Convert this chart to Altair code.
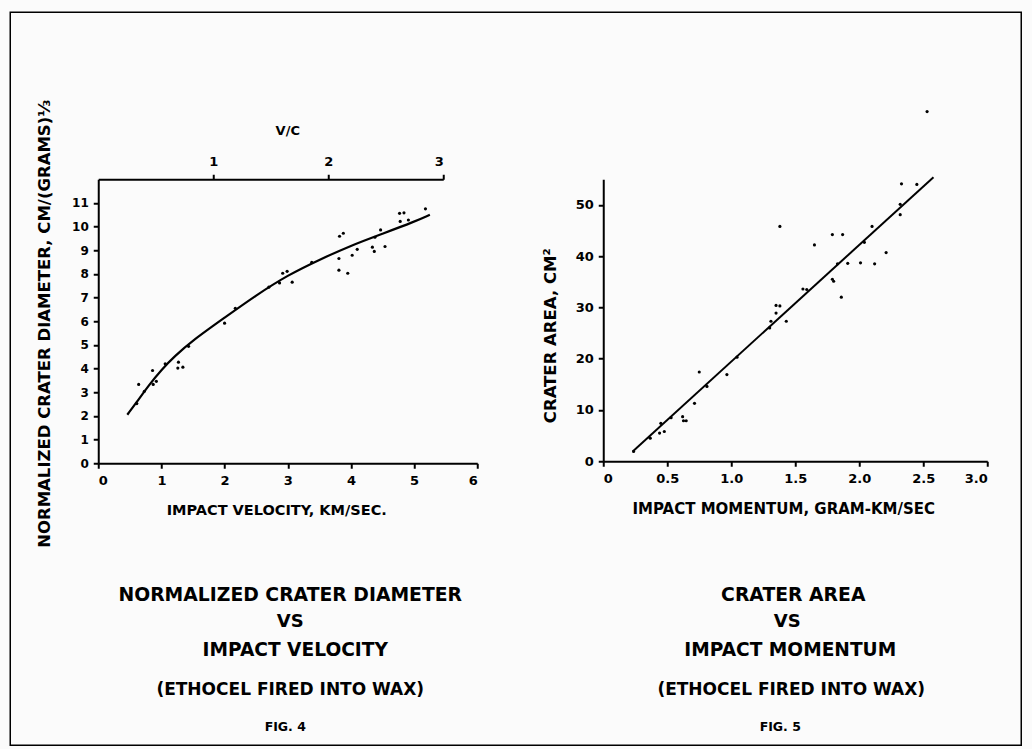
import altair as alt
import pandas as pd

FONT = "DejaVu Sans"

# ---- Fig. 4: normalized crater diameter vs impact velocity ----
vel_pts = [0.64, 0.86, 0.92, 0.87, 0.61, 0.73, 1.06, 1.27, 1.26, 1.34, 1.43, 2.00, 2.17,
           2.70, 2.87, 2.92, 2.99, 3.07, 3.38, 3.82, 3.88, 3.81, 3.81, 3.95, 4.02, 4.10,
           4.34, 4.37, 4.38, 4.47, 4.54, 4.77, 4.84, 4.78, 4.91, 5.18]
diam_pts = [3.33, 3.92, 3.46, 3.33, 2.52, 3.04, 4.20, 4.27, 4.02, 4.06, 4.94, 5.92, 6.55,
            7.44, 7.62, 8.03, 8.11, 7.65, 8.49, 9.59, 9.72, 8.65, 8.16, 8.03, 8.79, 9.04,
            9.13, 8.95, 9.55, 9.86, 9.16, 10.56, 10.58, 10.22, 10.28, 10.75]

curve_vel = [0.46, 0.6, 0.8, 1.0, 1.2, 1.5, 2.0, 2.5, 3.0, 3.5, 4.0, 4.5, 5.0, 5.25]
curve_diam = [2.05, 2.55, 3.3, 3.95, 4.5, 5.2, 6.15, 7.1, 7.95, 8.6, 9.2, 9.7, 10.2, 10.5]

vc_ticks = [1, 2, 3]
vel_ticks = [0, 1, 2, 3, 4, 5, 6]
diam_ticks = list(range(0, 12))

# ---- Fig. 5: crater area vs impact momentum ----
mom_pts = [0.237, 0.367, 0.45, 0.44, 0.477, 0.53, 0.62, 0.627, 0.648, 0.713, 0.75, 0.81, 0.966, 1.045,
           1.31, 1.35, 1.35, 1.38, 1.43, 1.30, 1.56, 1.59, 1.65, 1.38, 1.79, 1.87, 1.79, 1.80,
           1.86, 1.83, 1.91, 2.01, 2.12, 2.21, 2.10, 2.04,
           2.53, 2.33, 2.45, 2.32, 2.32]
area_pts = [1.9, 4.5, 7.4, 5.5, 5.8, 8.5, 8.7, 7.9, 7.9, 11.3, 17.4, 14.6, 16.9, 20.3,
            27.3, 28.9, 30.4, 30.3, 27.3, 26.0, 33.6, 33.5, 42.2, 45.8, 44.2, 44.2, 35.5, 35.1,
            32.0, 38.5, 38.6, 38.7, 38.5, 40.7, 45.8, 42.7,
            68.2, 54.1, 54.0, 50.1, 48.1]

fit_mom = [0.23, 2.58]
fit_area = [1.9, 55.4]

mom_ticks = [0, 0.5, 1.0, 1.5, 2.0, 2.5, 3.0]
area_ticks = [0, 10, 20, 30, 40, 50]

caption4 = ["NORMALIZED CRATER DIAMETER", "VS", "IMPACT VELOCITY", "(ETHOCEL FIRED INTO WAX)", "FIG. 4"]
caption5 = ["CRATER AREA", "VS", "IMPACT MOMENTUM", "(ETHOCEL FIRED INTO WAX)", "FIG. 5"]

# ---- layout constants (pixels) ----
W4, H4 = 379, 284
W5, H5 = 384, 282
GAP = 126
cap_sizes = [18.8, 18, 18.6, 17, 12.5]
cap_y = [416, 443, 471, 511, 548]
cap4_x = [192, 192, 197, 192, 187]
cap5_x = [190, 184, 187, 188, 177]


def axis(**kw):
    base = dict(grid=False, domainColor="black", domainWidth=2, tickColor="black",
                tickWidth=2, tickSize=5, labelFont=FONT, labelFontWeight="bold",
                labelColor="black", labelFontSize=13, titleFont=FONT,
                titleFontWeight="bold", titleColor="black", titleFontSize=14.5)
    base.update(kw)
    return alt.Axis(**base)


def captions(lines, xs):
    layers = []
    for text, size, x, y in zip(lines, cap_sizes, xs, cap_y):
        layers.append(
            alt.Chart(pd.DataFrame({"t": [text]}))
            .mark_text(font=FONT, fontWeight="bold", fontSize=size, color="black",
                       align="center", baseline="middle")
            .encode(text="t:N", x=alt.value(x), y=alt.value(y))
        )
    return layers


# ---- left panel ----
pts4 = pd.DataFrame({"v": vel_pts, "d": diam_pts})
cur4 = pd.DataFrame({"v": curve_vel, "d": curve_diam})

x4 = alt.X("v:Q", scale=alt.Scale(domain=[0, 6], nice=False),
           axis=axis(values=vel_ticks, title="IMPACT VELOCITY, KM/SEC.",
                     titleX=178, titleY=47, titleAnchor="middle", titleBaseline="middle",
                     labelPadding=6))
y4 = alt.Y("d:Q", scale=alt.Scale(domain=[0, 12], nice=False),
           axis=axis(values=diam_ticks, title="NORMALIZED CRATER DIAMETER, CM/(GRAMS)⅓",
                     titleX=-54, titleY=144, titleAngle=-90, titleAlign="center",
                     titleBaseline="middle", titleFontSize=16.5, labelPadding=5,
                     labelFontSize=12))

curve4 = alt.Chart(cur4).mark_line(color="black", strokeWidth=2.2, interpolate="basis").encode(x=x4, y=y4)
dots4 = alt.Chart(pts4).mark_circle(color="black", size=10, opacity=1).encode(x=x4, y=y4)

vc = pd.DataFrame({"vc": vc_ticks})
top_axis = alt.Chart(vc).mark_point(opacity=0).encode(
    x=alt.X("vc:Q", scale=alt.Scale(domain=[0, 3], range=[0, 345], nice=False),
            axis=axis(orient="top", values=vc_ticks, title="V/C", titleX=189, titleY=-49,
                      titleAnchor="middle", titleBaseline="middle", labelPadding=6,
                      titleFontSize=13)),
    y=alt.value(0),
)

frame = alt.Chart(pd.DataFrame({"k": [0]})).mark_rect(
    fill=None, fillOpacity=0, stroke="black", strokeWidth=1.5
).encode(x=alt.value(-88), x2=alt.value(923), y=alt.value(-167), y2=alt.value(566))

left = alt.layer(
    alt.layer(curve4, dots4), top_axis
).resolve_scale(x="independent")
left = alt.layer(left, *captions(caption4, cap4_x), frame).properties(width=W4, height=H4)

# ---- right panel ----
pts5 = pd.DataFrame({"m": mom_pts, "a": area_pts})
fit5 = pd.DataFrame({"m": fit_mom, "a": fit_area})

x5 = alt.X("m:Q", scale=alt.Scale(domain=[0, 3], nice=False),
           axis=axis(values=mom_ticks, title="IMPACT MOMENTUM, GRAM-KM/SEC",
                     labelExpr="datum.value == 0 ? '0' : format(datum.value, '.1f')",
                     titleX=180, titleY=47, titleAnchor="middle", titleBaseline="middle",
                     labelPadding=6, titleFontSize=15))
y5 = alt.Y("a:Q", scale=alt.Scale(domain=[0, 55], nice=False),
           axis=axis(values=area_ticks, title="CRATER AREA, CM²",
                     titleX=-53, titleY=156, titleAngle=-90, titleAlign="center",
                     titleBaseline="middle", titleFontSize=16.5, labelPadding=5))

line5 = alt.Chart(fit5).mark_line(color="black", strokeWidth=2).encode(x=x5, y=y5)
dots5 = alt.Chart(pts5).mark_circle(color="black", size=10, opacity=1).encode(x=x5, y=y5)

right = alt.layer(line5, dots5, *captions(caption5, cap5_x)).properties(width=W5, height=H5)

chart = alt.hconcat(left, right, spacing=GAP, bounds="flush").properties(
    padding={"left": 9.25, "top": 11.25, "right": 10, "bottom": 3},
    background="#fbfbfb",
).configure_view(stroke=None)

chart.save("out.html", embed_options={"renderer": "svg", "actions": False})
